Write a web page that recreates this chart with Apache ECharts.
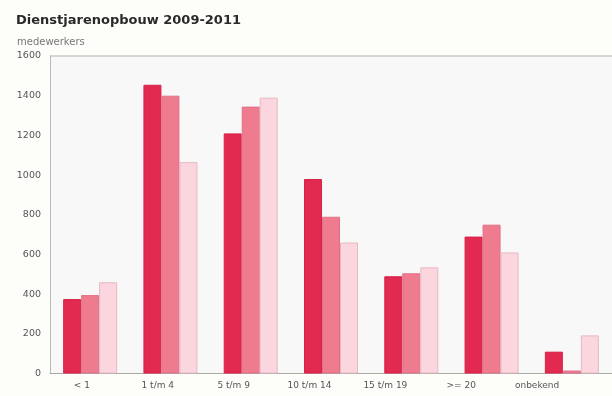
<!DOCTYPE html>
<html>
<head>
<meta charset="utf-8">
<script src="https://cdn.jsdelivr.net/npm/echarts@6/dist/echarts.min.js"></script>
<style>
html,body{margin:0;padding:0;background:#fdfdf9;}
#c{width:612px;height:396px;}
</style>
</head>
<body>
<div id="c"></div>
<script>
const categories = ['< 1', '1 t/m 4', '5 t/m 9', '10 t/m 14', '15 t/m 19', '>= 20', 'onbekend'];
const seriesNames = ['2009', '2010', '2011'];
const values2009 = [375, 1455, 1210, 980, 490, 690, 110];
const values2010 = [395, 1400, 1345, 790, 505, 750, 15];
const values2011 = [460, 1065, 1390, 660, 535, 610, 192];
const yTicks = [0, 200, 400, 600, 800, 1000, 1200, 1400, 1600];

const chart = echarts.init(document.getElementById('c'), null, {renderer: 'canvas'});
const font = 'DejaVu Sans, Verdana, sans-serif';
const colors = ['#e2294f', '#ef7b8f', '#fbd6de'];
const borders = ['#d82248', '#e0708a', '#e6b8c2'];
const allVals = [values2009, values2010, values2011];

chart.setOption({
  backgroundColor: '#fdfdf9',
  animation: false,
  title: [{
    text: 'Dienstjarenopbouw 2009-2011',
    left: 11, top: 9,
    textStyle: {fontFamily: font, fontSize: 13, fontWeight: 'bold', color: '#2a2a2a'}
  }, {
    text: 'medewerkers',
    left: 12, top: 32,
    textStyle: {fontFamily: font, fontSize: 10, fontWeight: 'normal', color: '#777'}
  }],
  grid: [
    {left: 50, top: 56, width: 565, bottom: 22.5, backgroundColor: '#f8f8f8', show: true, borderWidth: 0},
    {left: 44, top: 56, width: 531, bottom: 22.5, show: false}
  ],
  xAxis: [{
    type: 'category', data: categories, gridIndex: 0,
    axisLine: {lineStyle: {color: '#a8aaa4', width: 1}},
    axisTick: {show: false},
    axisLabel: {show: false}
  }, {
    type: 'category', data: categories, gridIndex: 1,
    axisLine: {show: false}, axisTick: {show: false},
    axisLabel: {fontFamily: font, fontSize: 9, color: '#555', margin: 8}
  }],
  yAxis: [{
    type: 'value', gridIndex: 0, min: yTicks[0], max: yTicks[yTicks.length - 1], interval: 200,
    axisLine: {show: true, lineStyle: {color: '#b8bab4'}},
    axisTick: {show: false},
    splitLine: {show: false},
    axisLabel: {fontFamily: font, fontSize: 9.5, color: '#555', margin: 9, padding: [4, 0, 0, 0], formatter: v => String(v)}
  }, {
    type: 'value', gridIndex: 1, min: 0, max: 1600, show: false
  }],
  graphic: [{
    type: 'line', shape: {x1: 50, y1: 56, x2: 612, y2: 56},
    style: {stroke: '#c9cac3', lineWidth: 1.5}
  }],
  series: seriesNames.map((n, i) => ({
    name: n, type: 'bar', xAxisIndex: 0, yAxisIndex: 0,
    data: allVals[i],
    barWidth: 18, barGap: '0%',
    itemStyle: {color: colors[i], borderColor: borders[i], borderWidth: 1}
  }))
});
</script>
</body>
</html>
